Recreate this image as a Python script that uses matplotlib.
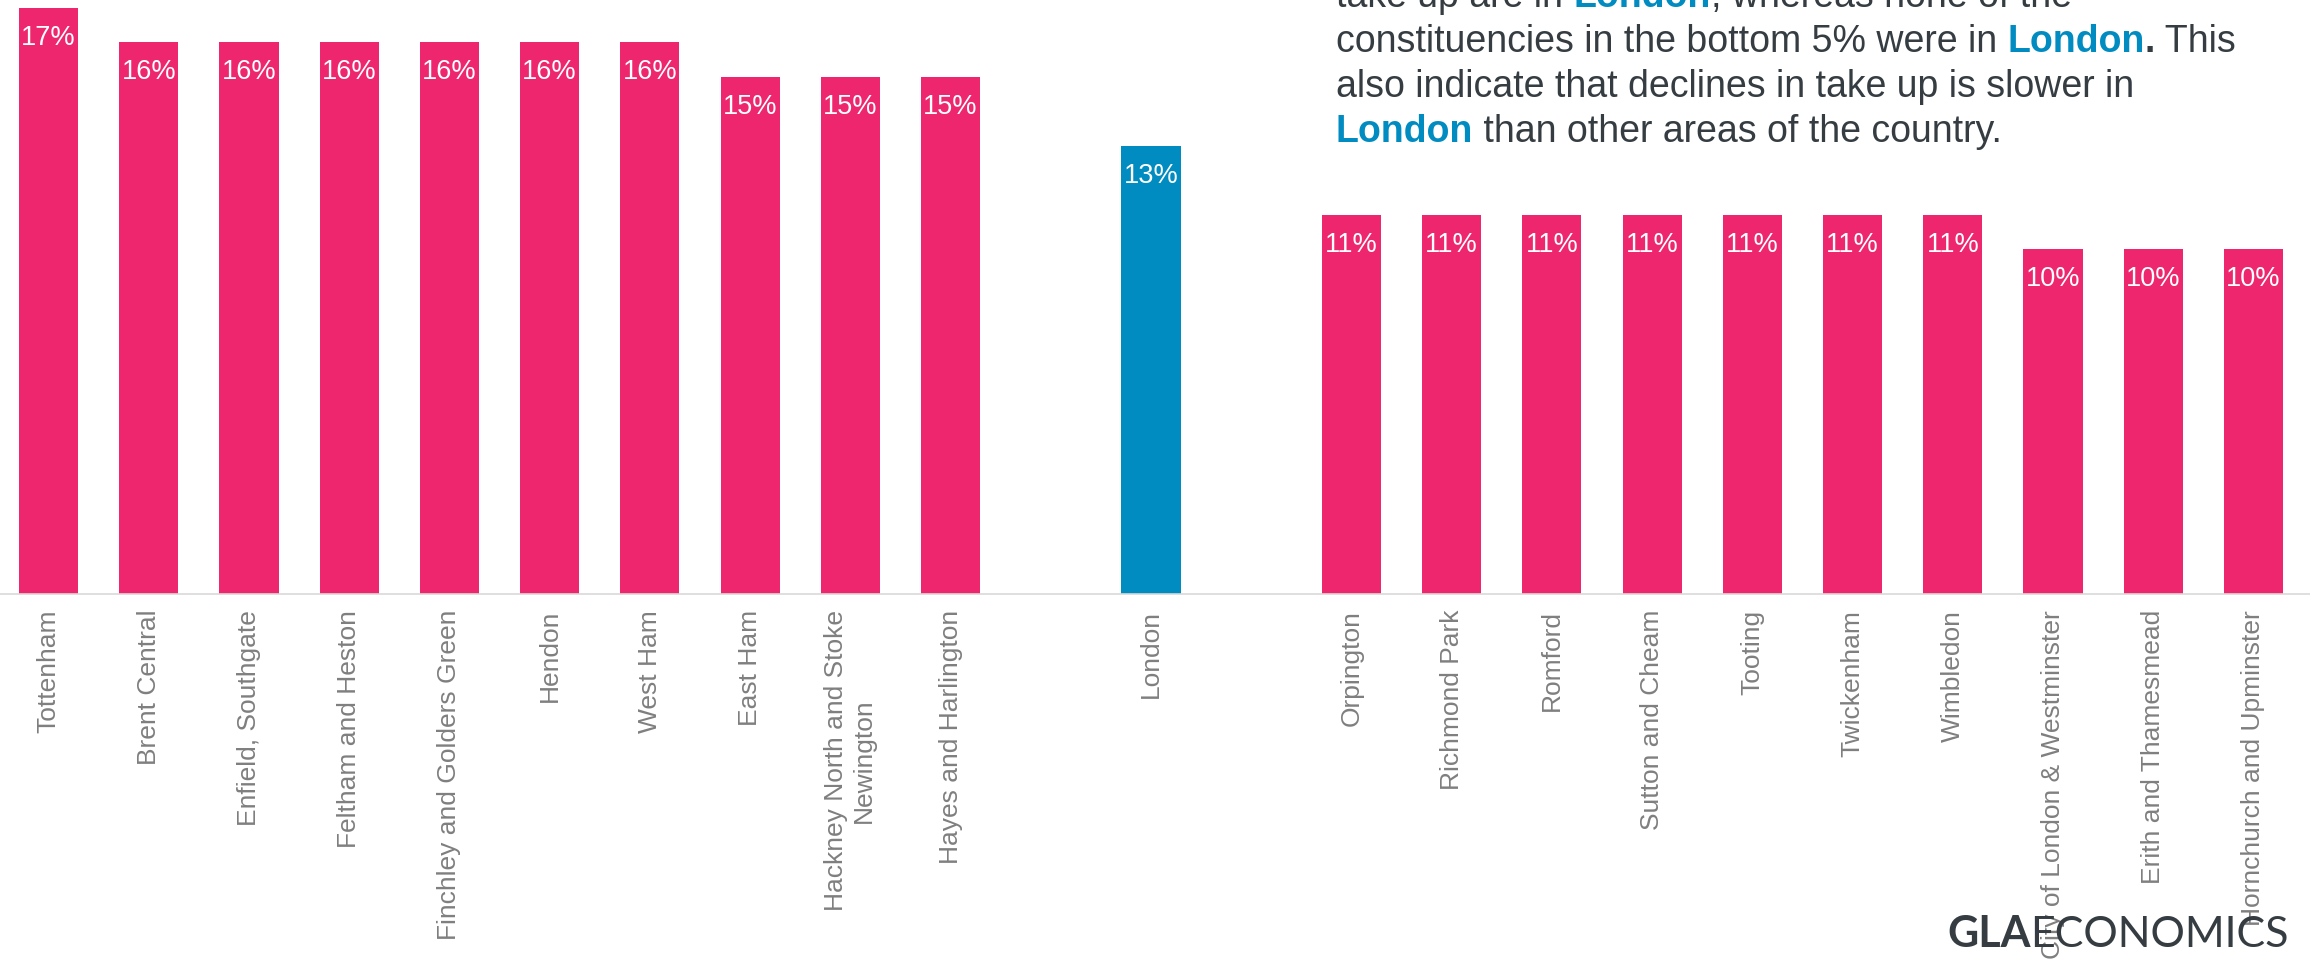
import numpy as np
import matplotlib
matplotlib.use("Agg")
import matplotlib.pyplot as plt

plt.rcParams['font.family'] = ['Liberation Sans', 'DejaVu Sans']

# take-up share by constituency (%): top ten, London average, bottom ten
top_names = ["Tottenham", "Brent Central", "Enfield, Southgate", "Feltham and Heston",
             "Finchley and Golders Green", "Hendon", "West Ham", "East Ham",
             "Hackney North and Stoke\nNewington", "Hayes and Harlington"]
top_vals = [17, 16, 16, 16, 16, 16, 16, 15, 15, 15]

london_name = "London"
london_val = 13

bottom_names = ["Orpington", "Richmond Park", "Romford", "Sutton and Cheam", "Tooting",
                "Twickenham", "Wimbledon", "City of London & Westminster",
                "Erith and Thamesmead", "Hornchurch and Upminster"]
bottom_vals = [11, 11, 11, 11, 11, 11, 11, 10, 10, 10]

PINK = "#EE266D"
BLUE = "#008BC1"
DARK = "#353D42"
GREY = "#7F7F7F"

fig = plt.figure(figsize=(23.1, 9.61), dpi=100)
ax = fig.add_axes([0, 0.3814, 1, 0.6186])

# one empty slot either side of London
x_top = np.arange(len(top_vals))
x_lon = len(top_vals) + 1
x_bot = np.arange(len(bottom_vals)) + x_lon + 2

xs = list(x_top) + [x_lon] + list(x_bot)
vals = top_vals + [london_val] + bottom_vals
names = top_names + [london_name] + bottom_names
colors = [PINK] * len(top_vals) + [BLUE] + [PINK] * len(bottom_vals)

ax.bar(xs, vals, width=0.59, color=colors, zorder=2)

for x, v in zip(xs, vals):
    ax.annotate(f"{v}%", xy=(x, v), xytext=(0, -37), textcoords="offset pixels",
                ha="center", va="baseline", color="white", fontsize=19.5)

ax.set_xlim(-0.484, xs[-1] + 0.564)
ax.set_ylim(0, 17.23)
ax.set_xticks(xs)
ax.set_xticklabels(names, rotation=90, fontsize=19, color=GREY,
                   multialignment="center")
ax.tick_params(axis="x", length=0, pad=11)
ax.set_yticks([])
for s in ["top", "left", "right"]:
    ax.spines[s].set_visible(False)
ax.spines["bottom"].set_color("#D9D9D9")
ax.spines["bottom"].set_linewidth(1.2)

# commentary in the top right, London highlighted in bold blue
lines = [
    [("take up are in ", DARK, "normal"), ("London", BLUE, "bold"),
     (", whereas none of the", DARK, "normal")],
    [("constituencies in the bottom 5% were in ", DARK, "normal"),
     ("London", BLUE, "bold"), (".", DARK, "bold"), (" This", DARK, "normal")],
    [("also indicate that declines in take up is slower in", DARK, "normal")],
    [("London", BLUE, "bold"), (" than other areas of the country.", DARK, "normal")],
]
baselines = [7, 52, 97, 142]

for parts, bl in zip(lines, baselines):
    prev = fig.text(1336 / 2310, 1 - bl / 961, parts[0][0], fontsize=27,
                    color=parts[0][1], fontweight=parts[0][2], va="baseline")
    for txt, col, w in parts[1:]:
        prev = ax.annotate(txt, xy=(1, 0), xycoords=prev, va="bottom", ha="left",
                           fontsize=27, color=col, fontweight=w,
                           annotation_clip=False)

# logo
gla = fig.text(1947 / 2310, 1 - 947 / 961, "GLA", fontsize=31, color=DARK,
               fontweight="bold", family=["Lato", "DejaVu Sans"], va="baseline",
               zorder=5)
ax.annotate("ECONOMICS", xy=(1, 0), xycoords=gla, va="bottom", ha="left",
            fontsize=31, color=DARK, fontweight="normal",
            family=["Lato", "DejaVu Sans"], annotation_clip=False, zorder=5)

fig.savefig("out.png", dpi=100, facecolor="white")
